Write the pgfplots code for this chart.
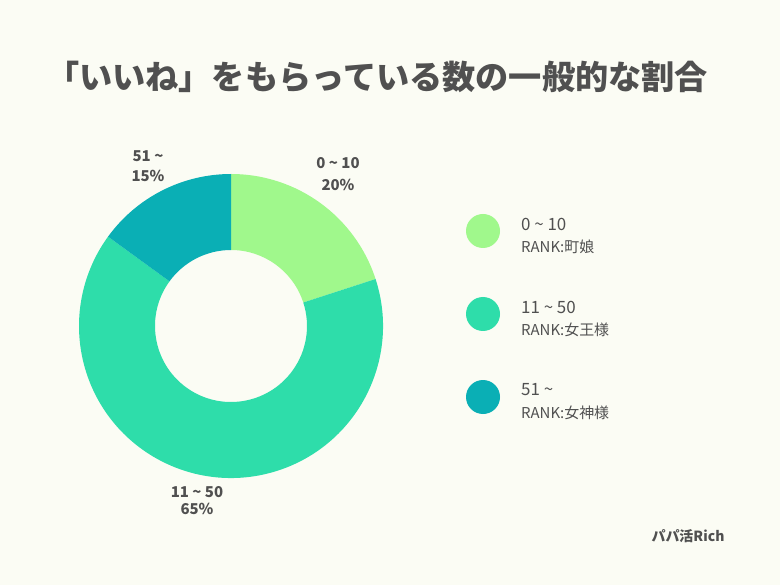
\documentclass[border=0pt]{standalone}
\usepackage{pgfplots}
\pgfplotsset{compat=1.18}
\usepackage{fontspec}
\setmainfont{Noto Sans CJK JP}
\definecolor{bg}{HTML}{FBFCF4}
\definecolor{cA}{HTML}{A0F88C}
\definecolor{cB}{HTML}{2EDDAA}
\definecolor{cC}{HTML}{0AAFB5}
\definecolor{txt}{HTML}{505050}
% data (percent)
\def\va{20}\def\vb{65}\def\vc{15}
\pgfmathsetmacro\aZ{90}
\pgfmathsetmacro\aA{90-3.6*\va}
\pgfmathsetmacro\aB{\aA-3.6*\vb}
\pgfmathsetmacro\aC{\aB-3.6*\vc}
\def\cx{231}\def\cy{259}
\newcommand\donutwedge[3]{%
  \fill[#1] ([shift={(#2:152bp)}]axis cs:\cx,\cy) arc[start angle=#2,end angle=#3,radius=152bp]
   -- ([shift={(#3:76bp)}]axis cs:\cx,\cy) arc[start angle=#3,end angle=#2,radius=76bp] -- cycle;}
\begin{document}
\begin{tikzpicture}
\begin{axis}[scale only axis, width=780bp, height=585bp, xmin=0, xmax=780, ymin=0, ymax=585, hide axis, clip=false]
\fill[bg] (axis cs:0,0) rectangle (axis cs:780,585);
\donutwedge{cA}{\aZ}{\aA}
\donutwedge{cB}{\aA}{\aB}
\donutwedge{cC}{\aB}{\aC}
\node[text=txt, font=\fontsize{33.3}{33}\selectfont\bfseries] at (axis cs:377,508) {「いいね」をもらっている数の一般的な割合};
\begin{scope}[every node/.style={text=txt, font=\fontsize{15}{15}\selectfont\bfseries}]
\node at (axis cs:148,429) {51 \textasciitilde};
\node at (axis cs:148,409) {15\%};
\node at (axis cs:338,422) {0 \textasciitilde{} 10};
\node at (axis cs:338,400) {20\%};
\node at (axis cs:197,93) {11 \textasciitilde{} 50};
\node at (axis cs:197,76) {65\%};
\end{scope}
\fill[cA] (axis cs:483,354) circle[radius=17bp];
\fill[cB] (axis cs:483,271) circle[radius=17bp];
\fill[cC] (axis cs:483,188) circle[radius=17bp];
\begin{scope}[every node/.style={text=txt, anchor=west, inner sep=0pt}]
\node[font=\fontsize{17}{17}\selectfont] at (axis cs:521,361) {0 \textasciitilde{} 10};
\node[font=\fontsize{15}{15}\selectfont] at (axis cs:521,338) {RANK:町娘};
\node[font=\fontsize{17}{17}\selectfont] at (axis cs:521,278) {11 \textasciitilde{} 50};
\node[font=\fontsize{15}{15}\selectfont] at (axis cs:521,255) {RANK:女王様};
\node[font=\fontsize{17}{17}\selectfont] at (axis cs:521,195) {51 \textasciitilde};
\node[font=\fontsize{15}{15}\selectfont] at (axis cs:521,172) {RANK:女神様};
\end{scope}
\node[text=txt, font=\fontsize{14}{14}\selectfont\bfseries] at (axis cs:688,49) {パパ活Rich};
\end{axis}
\end{tikzpicture}
\end{document}
